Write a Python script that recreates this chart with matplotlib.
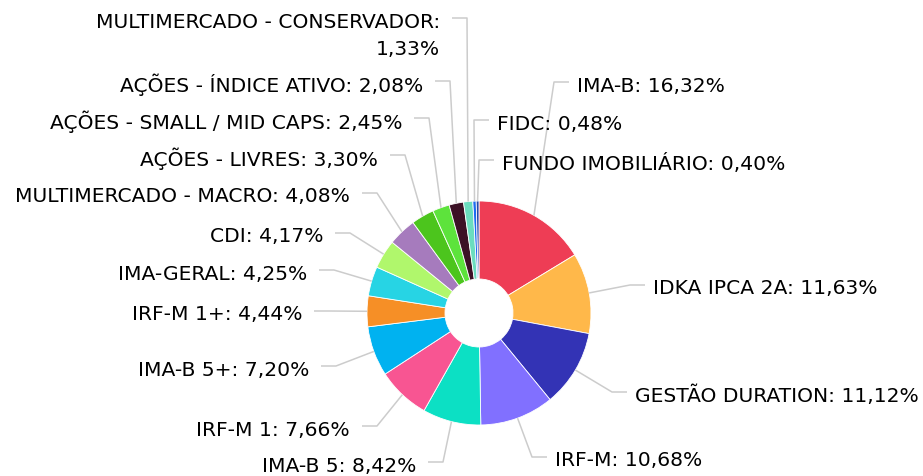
import numpy as np
import matplotlib
matplotlib.use("Agg")
import matplotlib.pyplot as plt

# dados da carteira (%)
categorias = [
    "IMA-B", "IDKA IPCA 2A", "GESTÃO DURATION", "IRF-M", "IMA-B 5", "IRF-M 1",
    "IMA-B 5+", "IRF-M 1+", "IMA-GERAL", "CDI", "MULTIMERCADO - MACRO",
    "AÇÕES - LIVRES", "AÇÕES - SMALL / MID CAPS", "AÇÕES - ÍNDICE ATIVO",
    "MULTIMERCADO - CONSERVADOR", "FIDC", "FUNDO IMOBILIÁRIO",
]
valores = [16.32, 11.63, 11.12, 10.68, 8.42, 7.66, 7.20, 4.44, 4.25, 4.17,
           4.08, 3.30, 2.45, 2.08, 1.33, 0.48, 0.40]
cores = [
    "#EE3D55", "#FFB84A", "#3333B5", "#8170FF", "#0CE0C4", "#F85592",
    "#00B2F0", "#F68F26", "#27D4E4", "#B0F76C", "#A67BBD", "#4CC51D",
    "#5DE33C", "#3C1126", "#6BDDBF", "#1E6BF0", "#2848A8",
]

# posicao dos rotulos em pixels (x do texto, y do conector, lado)
rotulos_pos = [
    (577, 82, "r"), (653, 285, "r"), (635, 392, "r"), (555, 457, "r"),
    (416, 462, "l"), (350, 426, "l"), (309, 366, "l"), (302, 311, "l"),
    (307, 270, "l"), (323, 233, "l"), (350, 193, "l"), (378, 155, "l"),
    (402, 118, "l"), (423, 81, "l"), (440, 18, "l"), (497, 120, "r"),
    (502, 160, "r"),
]

W, H = 923, 476
CX, CY, R, R_IN = 479, 313, 112, 34


def fy(p):
    return H - p


fig = plt.figure(figsize=(W / 100, H / 100), dpi=100)
ax = fig.add_axes([0, 0, 1, 1])

ax.pie(valores, colors=cores, startangle=90, counterclock=False,
       center=(CX, fy(CY)), radius=R,
       wedgeprops=dict(width=R - R_IN, edgecolor="white", linewidth=0.6))

ax.set_xlim(0, W)
ax.set_ylim(0, H)
ax.set_aspect("equal")
ax.axis("off")

fonte = dict(fontsize=14.6, color="#000000", family="DejaVu Sans")
linha = dict(color="#cccccc", lw=1.1, solid_capstyle="butt")

acum = np.cumsum([0] + valores[:-1])
total = sum(valores)
for nome, v, a0, (tx, ly, lado) in zip(categorias, valores, acum, rotulos_pos):
    ang = np.deg2rad((a0 + v / 2) / total * 360)
    ex = CX + R * np.sin(ang)
    ey = CY - R * np.cos(ang)
    txt = f"{nome}: {v:.2f}%".replace(".", ",")
    if lado == "r":
        bx, fx = tx - 23, tx - 8
        ha = "left"
    else:
        bx, fx = tx + 27, tx + 12
        ha = "right"
    ax.plot([ex, bx, fx], [fy(ey), fy(ly), fy(ly)], **linha)
    if nome == "MULTIMERCADO - CONSERVADOR":
        txt = txt.replace(": ", ":\n")
        ax.text(tx, fy(ly + 18), txt, ha=ha, va="center", multialignment="right",
                linespacing=1.48, **fonte)
    else:
        ax.text(tx, fy(ly + 4), txt, ha=ha, va="center", **fonte)

fig.savefig("out.png", dpi=100)
